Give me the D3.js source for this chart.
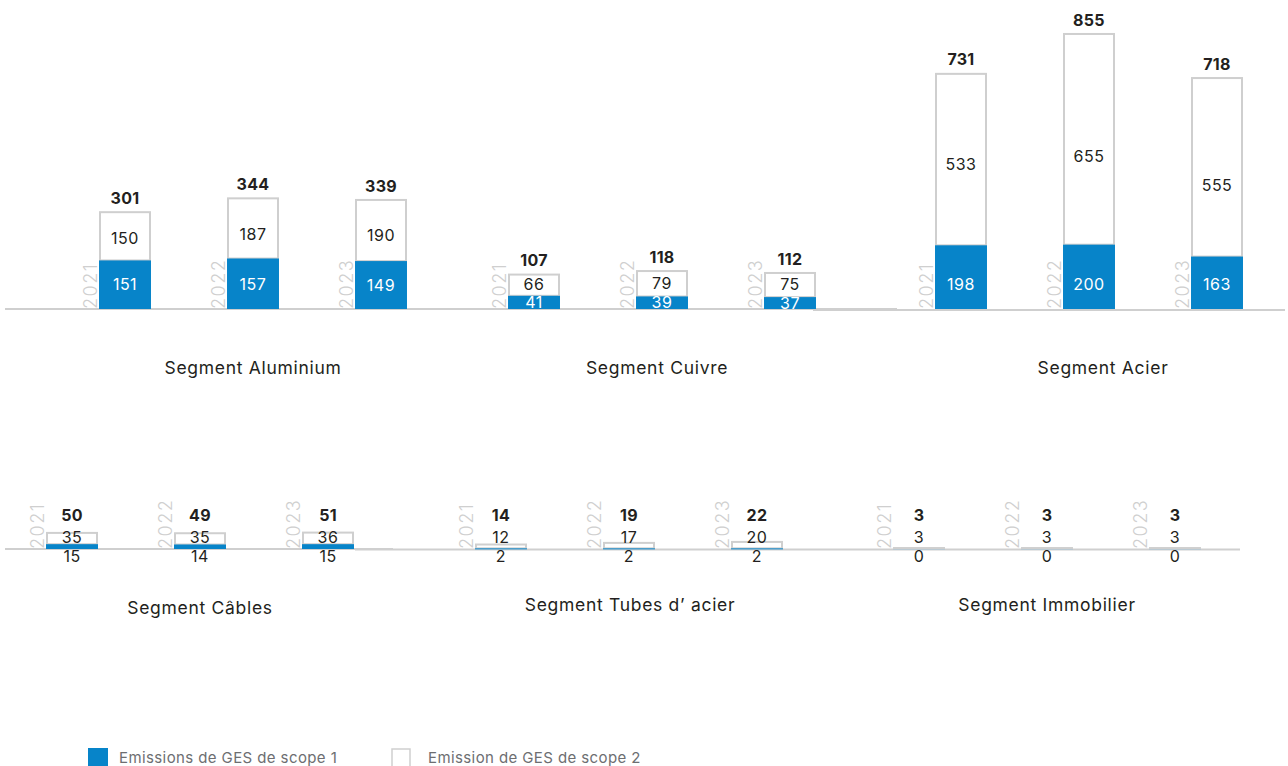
<!DOCTYPE html>
<html>
<head>
<meta charset="utf-8">
<script src="https://cdn.jsdelivr.net/npm/d3@7/dist/d3.min.js"></script>
<style>
  html, body { margin: 0; padding: 0; background: #fff; }
  svg { display: block; }
  text { font-family: Inter, "Noto Sans", sans-serif; }
</style>
</head>
<body>
<svg id="chart" width="1288" height="766"></svg>
<script>
// Émissions de GES (scope 1 / scope 2) par segment et par année
const years = ["2021", "2022", "2023"];
const segments = ["Segment Aluminium", "Segment Cuivre", "Segment Acier",
                  "Segment Câbles", "Segment Tubes d’ acier", "Segment Immobilier"];
const scope1 = [
  [151, 157, 149],
  [41, 39, 37],
  [198, 200, 163],
  [15, 14, 15],
  [2, 2, 2],
  [0, 0, 0]
];
const scope2 = [
  [150, 187, 190],
  [66, 79, 75],
  [533, 655, 555],
  [35, 35, 36],
  [12, 17, 20],
  [3, 3, 3]
];
const totals = [
  [301, 344, 339],
  [107, 118, 112],
  [731, 855, 718],
  [50, 49, 51],
  [14, 19, 22],
  [3, 3, 3]
];
const legendLabels = ["Emissions de GES de scope 1", "Emission de GES de scope 2"];

// Layout of the six panels (two rows of three)
const rows = [
  { baseline: 309, titleY: 368, lines: [[5, 897, 0], [813, 1285, 1]] },
  { baseline: 549, titleY: 605, lines: [[5, 393, 0], [355, 1240, 0.5]] }
];
const panels = [
  { row: 0, x0: 61,  titleDx: 0,  titleDy: 0 },
  { row: 0, x0: 470, titleDx: -5, titleDy: 0 },
  { row: 0, x0: 897, titleDx: 14, titleDy: 0 },
  { row: 1, x0: 8,   titleDx: 0,  titleDy: 3 },
  { row: 1, x0: 437, titleDx: 1,  titleDy: 0 },
  { row: 1, x0: 855, titleDx: 0,  titleDy: 0 }
];
// Vertical nudge of the scope 2 value inside tall outlined segments
const s2LabelNudge = [
  [2, 6, 5],
  [-1, 0, -1],
  [5, 17, 18],
  [0, 0, 0],
  [0, 0, 0],
  [0, 0, 0]
];

const BLUE = "#0784c9";
const GREY = "#cfcfcf";
const DARK = "#231f20";

const svg = d3.select("#chart");

// Shared value → height scale
const h = d3.scaleLinear().domain([0, 900]).range([0, 289.5]);

// Baselines, drawn as overlapping pieces
rows.forEach(r => {
  svg.append("g").selectAll("line").data(r.lines).join("line")
    .attr("x1", d => d[0]).attr("x2", d => d[1])
    .attr("y1", d => r.baseline + d[2]).attr("y2", d => r.baseline + d[2])
    .attr("stroke", GREY).attr("stroke-width", 2);
});

segments.forEach((name, si) => {
  const p = panels[si];
  const base = rows[p.row].baseline;
  const x = d3.scaleBand().domain(years)
    .range([p.x0, p.x0 + 384])
    .paddingInner(0.594).paddingOuter(0.297);
  const bw = x.bandwidth();
  const g = svg.append("g");

  const rowsData = years.map((yr, i) => ({
    yr, s1: scope1[si][i], s2: scope2[si][i], tot: totals[si][i],
    nudge: s2LabelNudge[si][i]
  }));

  // Year labels, rotated, sitting on the baseline
  g.selectAll("text.year").data(rowsData).join("text")
    .attr("class", "year")
    .attr("transform", d => `translate(${x(d.yr) - 2},${base}) rotate(-90)`)
    .attr("font-size", 18).attr("font-weight", 300)
    .attr("fill", GREY).attr("letter-spacing", 1.5)
    .text(d => d.yr);

  // Scope 2 segment (outlined)
  g.selectAll("rect.s2").data(rowsData).join("rect")
    .attr("class", "s2")
    .attr("x", d => x(d.yr) + 1)
    .attr("width", bw - 2)
    .attr("y", d => base - h(d.s1 + d.s2))
    .attr("height", d => Math.max(0, h(d.s2)))
    .attr("fill", "#fff")
    .attr("stroke", GREY).attr("stroke-width", 2);

  // Scope 1 segment (solid blue)
  g.selectAll("rect.s1").data(rowsData).join("rect")
    .attr("class", "s1")
    .attr("x", d => x(d.yr))
    .attr("width", bw)
    .attr("y", d => base - h(d.s1))
    .attr("height", d => Math.max(h(d.s1), 1))
    .attr("fill", d => d.s1 > 0 ? BLUE : "#b9c9d3");

  const cx = d => x(d.yr) + bw / 2;
  const inside = d => h(d.s1) >= 10;

  // Scope 2 values
  g.selectAll("text.v2").data(rowsData).join("text")
    .attr("class", "v2")
    .attr("x", cx)
    .attr("y", d => Math.min(base - h(d.s1) - h(d.s2) / 2 + d.nudge, base - 12))
    .attr("dy", "0.35em")
    .attr("text-anchor", "middle").attr("font-size", 16)
    .attr("letter-spacing", 0.5)
    .attr("fill", DARK)
    .text(d => d.s2);

  // Scope 1 values: inside when the bar is tall enough, otherwise below the axis
  g.selectAll("text.v1").data(rowsData).join("text")
    .attr("class", "v1")
    .attr("x", cx)
    .attr("y", d => inside(d) ? Math.max(base - h(d.s1) / 2, base - 25) : base + 7)
    .attr("dy", "0.35em")
    .attr("text-anchor", "middle").attr("font-size", 16)
    .attr("letter-spacing", 0.5)
    .attr("fill", d => inside(d) ? "#fff" : DARK)
    .text(d => d.s1);

  // Totals
  g.selectAll("text.tot").data(rowsData).join("text")
    .attr("class", "tot")
    .attr("x", cx)
    .attr("y", d => Math.min(base - h(d.s1 + d.s2) - 14, base - 34))
    .attr("dy", "0.35em")
    .attr("text-anchor", "middle").attr("font-size", 16)
    .attr("font-weight", 700).attr("fill", DARK)
    .attr("letter-spacing", 0.3)
    .text(d => d.tot);

  // Segment title
  g.append("text")
    .attr("x", p.x0 + 192 + p.titleDx)
    .attr("y", rows[p.row].titleY + p.titleDy)
    .attr("dy", "0.35em")
    .attr("text-anchor", "middle").attr("font-size", 17.5)
    .attr("letter-spacing", 0.7)
    .attr("fill", DARK)
    .text(name);
});

// Legend
const legend = svg.append("g");
const lx = [88, 391];
legend.selectAll("rect").data(legendLabels).join("rect")
  .attr("x", (d, i) => lx[i] + (i ? 1 : 0))
  .attr("y", (d, i) => 748 + (i ? 1 : 0))
  .attr("width", (d, i) => i ? 18 : 20)
  .attr("height", 20)
  .attr("fill", (d, i) => i ? "#fff" : BLUE)
  .attr("stroke", (d, i) => i ? GREY : "none")
  .attr("stroke-width", 1.5);
legend.selectAll("text").data(legendLabels).join("text")
  .attr("x", (d, i) => lx[i] + (i ? 37 : 31))
  .attr("y", 758)
  .attr("dy", "0.35em")
  .attr("font-size", 15).attr("fill", "#6d6e71")
  .attr("letter-spacing", 0.4)
  .text(d => d);
</script>
</body>
</html>
